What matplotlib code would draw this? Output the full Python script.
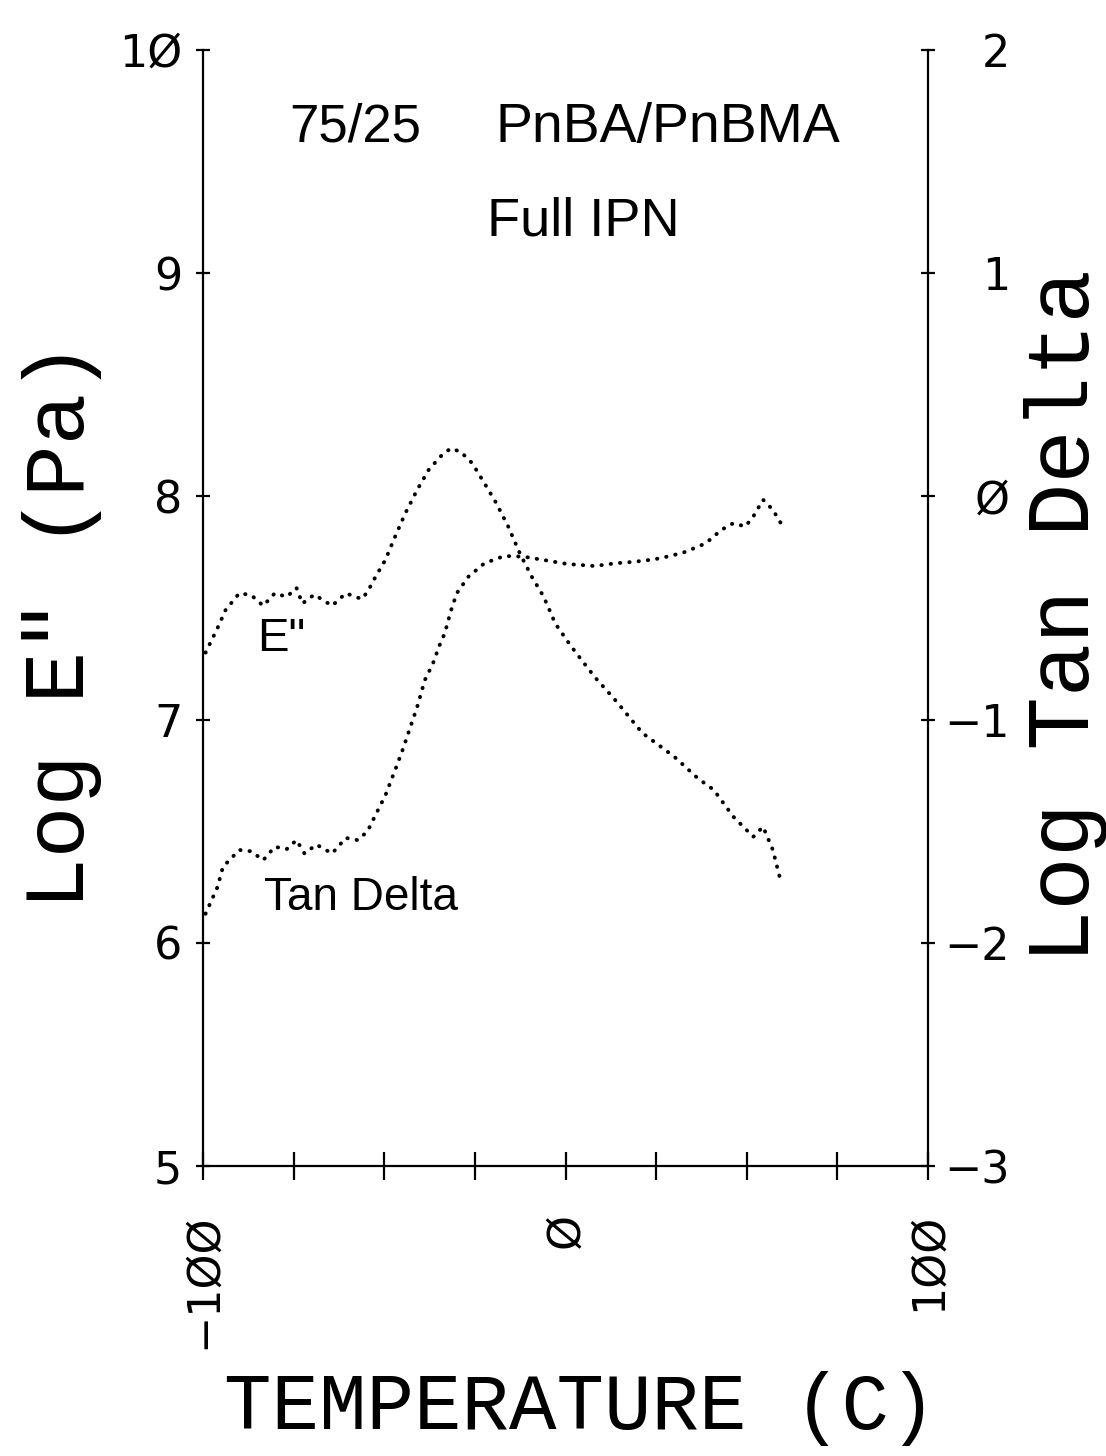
import matplotlib
matplotlib.use("Agg")
import matplotlib.pyplot as plt

# E'' (left axis, log Pa)
temp_e = [-99.3, -96.0, -93.8, -90.0, -86.7, -83.4, -80.2, -76.9, -74.2, -72.6,
          -69.3, -64.4, -60.6, -56.2, -54.6, -52.4, -49.7, -47.0, -44.2, -40.9,
          -37.7, -34.4, -31.7, -28.9, -25.7, -22.4, -19.1, -15.8, -12.6, -9.3,
          -6.0, -2.8, 1.6, 8.1, 13.6, 21.2, 30.0, 36.5, 40.9, 46.3,
          51.8, 54.5, 57.2, 59.4]
log_e = [7.30, 7.41, 7.49, 7.566, 7.558, 7.51, 7.566, 7.55, 7.59, 7.52,
         7.56, 7.51, 7.566, 7.54, 7.573, 7.64, 7.715, 7.82, 7.924, 8.03,
         8.12, 8.18, 8.215, 8.20, 8.148, 8.06, 7.97, 7.865, 7.745, 7.64,
         7.55, 7.43, 7.327, 7.19, 7.09, 6.94, 6.834, 6.737, 6.685, 6.565,
         6.475, 6.52, 6.416, 6.274]

# tan delta (right axis, log)
temp_tan = [-99.3, -96.0, -94.5, -90.0, -86.7, -83.4, -80.2, -76.9, -74.2, -72.0,
            -68.7, -64.4, -60.6, -57.3, -54.6, -52.4, -49.7, -47.0, -44.8, -42.6,
            -40.9, -38.8, -36.6, -34.9, -33.3, -31.7, -30.0, -26.8, -22.4, -16.9,
            -11.5, -6.0, 0.5, 8.1, 13.6, 19.0, 24.5, 28.9, 33.2, 38.7,
            43.0, 46.3, 49.6, 51.8, 54.5, 57.2, 59.4]
log_tan = [-1.87, -1.75, -1.66, -1.584, -1.59, -1.63, -1.57, -1.58, -1.54, -1.60,
           -1.56, -1.60, -1.53, -1.54, -1.50, -1.427, -1.34, -1.226, -1.13, -1.024,
           -0.942, -0.823, -0.75, -0.673, -0.613, -0.517, -0.434, -0.36, -0.30, -0.267,
           -0.27, -0.285, -0.303, -0.312, -0.30, -0.293, -0.282, -0.267, -0.248, -0.21,
           -0.15, -0.12, -0.135, -0.09, -0.015, -0.06, -0.12]

x_ticks = [-100, -75, -50, -25, 0, 25, 50, 75, 100]
x_labels = ["\u22121\u00d8\u00d8", "", "", "", "\u00d8", "", "", "", "1\u00d8\u00d8"]
left_ticks = [5, 6, 7, 8, 9, 10]
left_labels = ["5", "6", "7", "8", "9", "1\u00d8"]
right_ticks = [-3, -2, -1, 0, 1, 2]
right_labels = ["\u22123", "\u22122", "\u22121", "\u00d8", "1", "2"]

W, H = 1106, 1456
fig = plt.figure(figsize=(W / 100, H / 100), dpi=100)
ax = fig.add_axes([203 / W, 1 - 1166 / H, 725 / W, 1116 / H])
ax2 = ax.twinx()

dots = dict(color="black", lw=2.8, linestyle=(0, (0.1, 2.3)), dash_capstyle="round")
ax.plot(temp_e, log_e, **dots)
ax2.plot(temp_tan, log_tan, **dots)

ax.set_xlim(-100, 100)
ax.set_ylim(5, 10)
ax2.set_ylim(-3, 2)

for s in ["top", "right"]:
    ax.spines[s].set_visible(False)
for s in ["top", "left", "bottom"]:
    ax2.spines[s].set_visible(False)
for sp in [ax.spines["left"], ax.spines["bottom"], ax2.spines["right"]]:
    sp.set_linewidth(1.6)

tick_font = dict(family="DejaVu Sans", size=32)
ax.set_xticks(x_ticks)
ax.set_xticklabels(x_labels, rotation=90, **tick_font)
ax.set_yticks(left_ticks)
ax.set_yticklabels(left_labels, **tick_font)
ax2.set_yticks(right_ticks)
ax2.set_yticklabels(right_labels, **tick_font)
for lab in ax2.get_yticklabels():
    lab.set_horizontalalignment("right")

ax.tick_params(axis="x", direction="inout", length=20, width=1.6, pad=24)
ax.tick_params(axis="y", direction="inout", length=10, width=1.6, pad=10)
ax2.tick_params(axis="y", direction="inout", length=10, width=1.6, pad=54)

label_font = dict(family=["Liberation Mono", "DejaVu Sans Mono"], color="black")
fig.text(62 / W, 1 - 625 / H, 'Log E" (Pa)', rotation=90, ha="center", va="center",
         size=62, **label_font)
fig.text(1066 / W, 1 - 616 / H, "Log Tan Delta", rotation=90, ha="center", va="center",
         size=64, **label_font)
fig.text(580 / W, 1 - 1408 / H, "TEMPERATURE (C)", ha="center", va="center",
         size=57, **label_font)

narrow = ["Liberation Sans", "DejaVu Sans"]
fig.text(355 / W, 1 - 128 / H, "75/25", ha="center", va="center", size=38, family=narrow)
fig.text(668 / W, 1 - 128 / H, "PnBA/PnBMA", ha="center", va="center", size=40, family=narrow)
fig.text(583 / W, 1 - 221 / H, "Full IPN", ha="center", va="center", size=39, family=narrow)
ax.text(-78.5, 7.36, 'E"', ha="center", va="center", size=34, family=narrow)
ax.text(-56.4, 6.20, "Tan Delta", ha="center", va="center", size=33, family=narrow)

fig.savefig("out.png", dpi=100)
